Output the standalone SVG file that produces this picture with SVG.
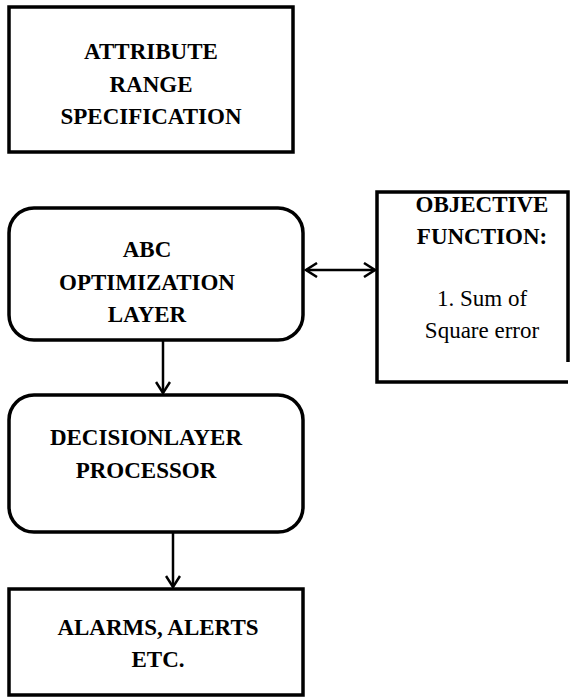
<svg xmlns="http://www.w3.org/2000/svg" width="570" height="698" viewBox="0 0 570 698">
<style>
.box{fill:#fff;stroke:#000;stroke-width:3.5}
.t{font-family:"Liberation Serif","Times New Roman",serif;font-size:23px;fill:#000;text-anchor:middle}
.b{font-weight:bold}
.c{fill:none;stroke:#000;stroke-width:2.5}
</style>
<defs>
<marker id="ah" markerWidth="14" markerHeight="16" refX="12" refY="8" orient="auto-start-reverse" markerUnits="userSpaceOnUse">
<path d="M1,1 L12,8 L1,15" fill="none" stroke="#000" stroke-width="2.5"/>
</marker>
</defs>
<rect width="570" height="698" fill="#fff"/>
<g id="attr">
<rect class="box" x="9" y="7" width="284" height="145"/>
<text class="t b" x="151" y="59">ATTRIBUTE</text>
<text class="t b" x="151" y="92">RANGE</text>
<text class="t b" x="151" y="124">SPECIFICATION</text>
</g>
<g id="abc">
<rect class="box" x="9" y="208" width="294" height="132" rx="25" ry="25"/>
<text class="t b" x="147" y="257">ABC</text>
<text class="t b" x="147" y="290">OPTIMIZATION</text>
<text class="t b" x="147" y="322">LAYER</text>
</g>
<g id="objective">
<path class="box" d="M568,362 L568,192 L377,192 L377,382 L568,382"/>
<text class="t b" x="482" y="212">OBJECTIVE</text>
<text class="t b" x="482" y="244">FUNCTION:</text>
<text class="t" x="482" y="306">1. Sum of</text>
<text class="t" x="482" y="338">Square error</text>
</g>
<g id="decision">
<rect class="box" x="9" y="395" width="294" height="137" rx="25" ry="25"/>
<text class="t b" x="146" y="445">DECISIONLAYER</text>
<text class="t b" x="146" y="478">PROCESSOR</text>
</g>
<g id="alarms">
<rect class="box" x="9" y="589" width="294" height="106"/>
<text class="t b" x="158" y="635">ALARMS, ALERTS</text>
<text class="t b" x="158" y="667">ETC.</text>
</g>
<g id="connectors">
<line class="c" x1="306" y1="270" x2="375" y2="270" marker-start="url(#ah)" marker-end="url(#ah)"/>
<line class="c" x1="163" y1="341" x2="163" y2="393" marker-end="url(#ah)"/>
<line class="c" x1="173" y1="533" x2="173" y2="587" marker-end="url(#ah)"/>
</g>
</svg>
